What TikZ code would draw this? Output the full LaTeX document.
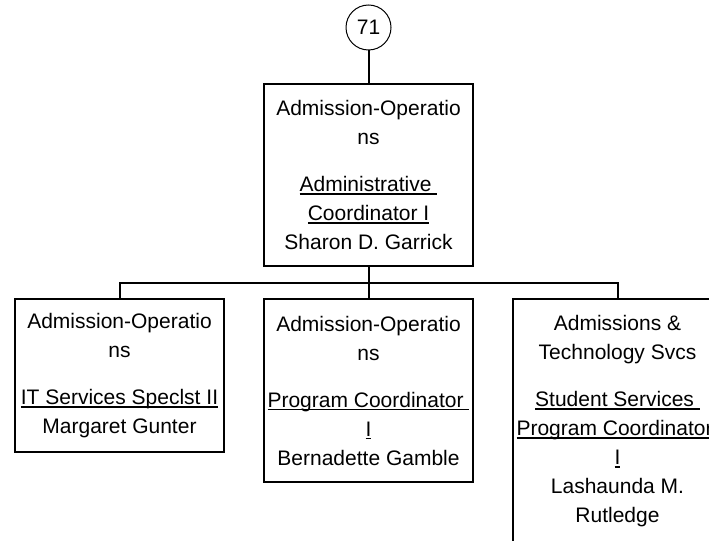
\documentclass[tikz,border=0pt]{standalone}
\usepackage{fontspec}
\setmainfont{Liberation Sans}
\usetikzlibrary{positioning}

\newcommand{\ulin}[1]{\setbox0\hbox{#1}\rlap{\rule[-0.15em]{\wd0}{0.07em}}\box0}

\begin{document}
\begin{tikzpicture}[x=0.75pt, y=-0.75pt, line width=1.5pt,
    every node/.style={font=\fontsize{15.75}{21.75}\selectfont, outer sep=0pt},
    posbox/.style={draw, line width=1.5pt, minimum width=156.75pt, align=center, inner sep=0pt},
    numcirc/.style={draw, circle, line width=0.75pt, minimum size=33.75pt, inner sep=0pt}]
    \useasboundingbox (0,0) rectangle (709,541);
    \clip (0,0) rectangle (709,541);

    \node[posbox, minimum height=136.5pt] (coord) at (368.5,175)
        {Admission-Operatio\\ ns\\[13.5pt] \ulin{Administrative\ }\\ \ulin{Coordinator I}\\ Sharon D. Garrick};
    \node[numcirc, above=25.5pt of coord] (c71) {71};

    \node[posbox, minimum height=137.25pt, below=24.75pt of coord] (progco)
        {Admission-Operatio\\ ns\\[13.5pt] \ulin{Program Coordinator\ }\\ \ulin{I}\\ Bernadette Gamble};
    \node[posbox, minimum height=114.75pt, left=30pt of progco.north west, anchor=north east] (itspec)
        {Admission-Operatio\\ ns\\[13.5pt] \ulin{IT Services Speclst II}\\ Margaret Gunter};
    \node[posbox, minimum height=183pt, right=30pt of progco.north east, anchor=north west] (studsvc)
        {Admissions \&\\ Technology Svcs\\[13.5pt] \ulin{Student Services\ }\\ \ulin{Program Coordinator\ }\\ \ulin{I}\\ Lashaunda M.\\ Rutledge};

    \draw (c71) -- (coord);
    \draw (coord.south) -- ++(0,17) coordinate (bus);
    \draw (bus) -| (itspec.north);
    \draw (bus) -- (progco.north);
    \draw (bus) -| (studsvc.north);
\end{tikzpicture}
\end{document}
